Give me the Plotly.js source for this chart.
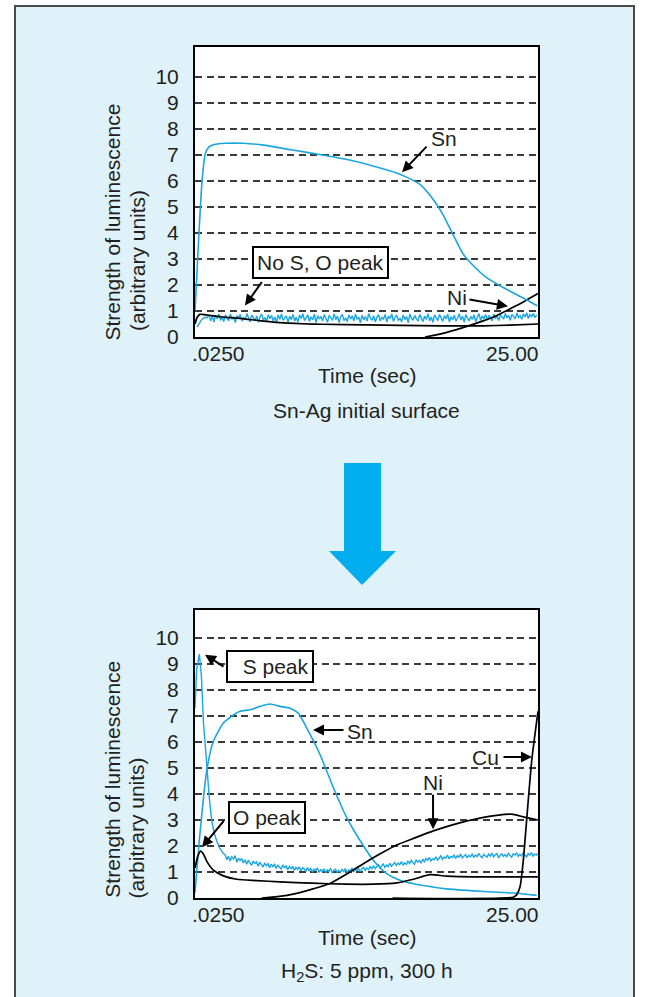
<!DOCTYPE html>
<html>
<head>
<meta charset="utf-8">
<script src="https://cdn.plot.ly/plotly-3.0.1.min.js"></script>
<style>
  html, body { margin: 0; padding: 0; background: #ffffff; }
  #chart { width: 646px; height: 997px; }
</style>
</head>
<body>
<div id="chart"></div>
<script>
// ---------- axis labels ----------
const yTicks = [0, 1, 2, 3, 4, 5, 6, 7, 8, 9, 10];
const xEndLabels = ['.0250', '25.00'];
const xTitle = 'Time (sec)';
const yTitleLines = ['Strength of luminescence', '(arbitrary units)'];
const panelTitles = ['Sn-Ag initial surface', 'H<sub>2</sub>S: 5 ppm, 300 h'];

// ---------- Sn-Ag initial surface (time in s, intensity in a.u.) ----------
const snTopT = [0, 0.25, 0.5, 0.75, 1.0, 1.4, 2.2, 3.5, 5.0, 7.0, 9.3, 11.5, 13.5, 14.6, 15.45, 16.4, 17.35, 18.08, 18.8, 19.53, 20.19, 21.28, 22.2, 23.18, 24.1, 24.95];
const snTopV = [1.0, 3.6, 5.9, 7.05, 7.3, 7.4, 7.45, 7.45, 7.38, 7.2, 7.0, 6.78, 6.5, 6.33, 6.14, 5.87, 5.3, 4.7, 3.95, 3.2, 2.8, 2.27, 1.98, 1.7, 1.45, 1.2];

const baseTopT = [0, 0.15, 0.35, 0.7, 1.2, 2.0, 3.3, 4.8, 6.2, 7.8, 9.3, 12.5, 15, 18, 21, 23, 25];
const baseTopV = [0.5, 0.75, 0.87, 0.86, 0.82, 0.77, 0.72, 0.62, 0.55, 0.51, 0.49, 0.47, 0.45, 0.43, 0.43, 0.46, 0.5];

const niTopT = [16.76, 18.0, 19.53, 21.0, 22.0, 23.18, 24.0, 25.0];
const niTopV = [0, 0.13, 0.36, 0.62, 0.83, 1.14, 1.37, 1.67];

// background trace: leading edge, then a sampled run (start 0.9 s, every 0.12 s)
const bgTopHeadT = [0.15, 0.3, 0.45, 0.6, 0.75];
const bgTopHeadV = [0.38, 0.52, 0.64, 0.72, 0.76];
const bgTopStart = 0.9, bgTopStep = 0.12;
const bgTopRun = [
  0.74,0.86,0.62,0.80,0.57,0.83,0.70,0.88,0.64,0.77,
  0.59,0.85,0.71,0.63,0.89,0.68,0.78,0.55,0.82,0.73,
  0.87,0.61,0.76,0.66,0.90,0.69,0.58,0.84,0.72,0.63,
  0.81,0.56,0.79,0.88,0.65,0.75,0.60,0.86,0.70,0.83,
  0.62,0.77,0.54,0.85,0.68,0.89,0.64,0.74,0.81,0.57,
  0.80,0.67,0.87,0.61,0.76,0.58,0.84,0.71,0.90,0.63,
  0.73,0.85,0.60,0.78,0.66,0.88,0.55,0.82,0.69,0.79,
  0.61,0.86,0.72,0.57,0.83,0.75,0.64,0.89,0.67,0.80,
  0.56,0.78,0.87,0.63,0.74,0.59,0.85,0.70,0.81,0.62,
  0.88,0.68,0.76,0.55,0.84,0.66,0.79,0.61,0.90,0.73,
  0.64,0.82,0.58,0.77,0.86,0.62,0.75,0.69,0.87,0.57,
  0.80,0.71,0.89,0.60,0.76,0.84,0.63,0.73,0.58,0.85,
  0.67,0.79,0.55,0.88,0.72,0.64,0.83,0.70,0.61,0.86,
  0.74,0.59,0.81,0.68,0.90,0.62,0.77,0.56,0.85,0.71,
  0.63,0.87,0.75,0.60,0.82,0.69,0.88,0.58,0.78,0.66,
  0.84,0.61,0.73,0.89,0.65,0.80,0.57,0.86,0.72,0.62,
  0.79,0.68,0.85,0.59,0.76,0.90,0.64,0.81,0.70,0.87,
  0.66,0.83,0.74,0.62,0.88,0.71,0.80,0.63,0.86,0.76,
  0.69,0.91,0.73,0.84,0.64,0.87,0.78,0.70,0.92,0.75,
  0.82,0.68,0.89,0.77,0.93,0.71,0.86,0.79,0.90,0.74,
  0.85
];

// ---------- after H2S exposure ----------
const snBotT = [0, 0.36, 0.85, 1.34, 2.07, 2.7, 3.28, 4.01, 4.74, 5.47, 6.2, 6.92, 7.53, 8.14, 9.11, 10.08, 11.05, 12.03, 13.0, 13.97, 14.94, 15.91, 17.0, 18.34, 20.77, 23.2, 24.9];
const snBotV = [0.2, 2.47, 4.89, 6.03, 6.73, 7.0, 7.18, 7.24, 7.37, 7.46, 7.37, 7.3, 7.11, 6.54, 5.52, 4.25, 3.1, 2.21, 1.45, 0.94, 0.68, 0.55, 0.45, 0.35, 0.26, 0.19, 0.1];

const oBotT = [0, 0.2, 0.41, 0.6, 0.85, 1.34, 2.07, 3.04, 4.5, 6.2, 8.5, 11.05, 13.0, 14.7, 15.91, 17.13, 18.34, 20.77, 25];
const oBotV = [1.15, 1.6, 1.8, 1.7, 1.42, 1.07, 0.85, 0.72, 0.67, 0.62, 0.57, 0.53, 0.53, 0.58, 0.72, 0.9, 0.84, 0.81, 0.81];

const niBotT = [4.86, 6.0, 7.41, 8.6, 9.84, 11.0, 12.27, 13.5, 14.7, 15.91, 17.37, 19.56, 21.99, 23.2, 23.93, 25.0];
const niBotV = [0, 0.05, 0.18, 0.35, 0.56, 0.9, 1.32, 1.7, 2.04, 2.29, 2.58, 2.93, 3.18, 3.22, 3.12, 3.0];

const cuBotT = [14.4, 23.2, 23.44, 23.69, 23.93, 24.17, 24.54, 25.0];
const cuBotV = [0, 0.03, 0.12, 0.43, 1.45, 2.98, 5.27, 7.18];

// S trace: sharp surface peak, then a sampled run (start 2.2 s, every 0.12 s)
const sBotHeadT = [0, 0.12, 0.32, 0.47, 0.61, 0.85, 1.05, 1.22, 1.4, 1.58, 1.8, 2.05];
const sBotHeadV = [7.3, 8.8, 9.38, 8.5, 6.8, 4.99, 3.8, 2.98, 2.5, 2.2, 1.92, 1.72];
const sBotStart = 2.2, sBotStep = 0.12;
const sBotRun = [
  1.66,1.47,1.61,1.42,1.58,1.50,1.63,1.38,1.53,1.44,
  1.52,1.35,1.47,1.30,1.44,1.36,1.25,1.42,1.33,1.39,
  1.22,1.38,1.27,1.19,1.35,1.24,1.32,1.16,1.30,1.21,
  1.29,1.14,1.26,1.19,1.11,1.27,1.17,1.23,1.09,1.21,
  1.13,1.22,1.06,1.18,1.10,1.20,1.04,1.16,1.12,1.03,
  1.17,1.05,1.13,0.99,1.11,1.06,1.15,0.98,1.09,1.02,
  1.12,0.97,1.08,1.03,1.14,0.96,1.07,1.11,0.99,1.06,
  0.98,1.10,1.02,1.13,0.97,1.08,1.04,1.15,1.00,1.11,
  1.05,1.14,1.01,1.12,1.18,1.06,1.16,1.09,1.21,1.11,
  1.24,1.13,1.20,1.28,1.16,1.25,1.31,1.18,1.27,1.21,
  1.33,1.22,1.30,1.37,1.25,1.34,1.28,1.40,1.26,1.35,
  1.29,1.41,1.33,1.45,1.36,1.30,1.47,1.38,1.44,1.34,
  1.49,1.40,1.52,1.45,1.56,1.43,1.51,1.47,1.58,1.46,
  1.54,1.62,1.49,1.58,1.53,1.65,1.51,1.60,1.56,1.66,
  1.52,1.63,1.57,1.69,1.55,1.61,1.67,1.54,1.64,1.58,
  1.70,1.56,1.65,1.59,1.72,1.60,1.55,1.68,1.62,1.57,
  1.69,1.61,1.73,1.58,1.66,1.71,1.56,1.64,1.70,1.60,
  1.67,1.59,1.72,1.63,1.57,1.70,1.65,1.74,1.60,1.68,
  1.62,1.73,1.66,1.58,1.71,1.64,1.75,1.61,1.69,1.65,
  1.72
];

// ---------- styling ----------
const W = 646, H = 997;
const FONT = '"Liberation Sans", Arial, Helvetica, sans-serif';
const INK = '#231f20';
const BLUE = '#1ba6df';
const PANEL = '#dff2fa';
const UNIT = 26;                 // pixels per intensity unit (keeps every grid line on the same pixel phase)
const px = x => x / W;          // pixel -> paper x
const py = y => 1 - y / H;      // pixel -> paper y

// plot boxes in pixels
const box = {
  left: 195, right: 538,
  top: { top: 47, bottom: 337 },
  bot: { top: 610, bottom: 898 }
};

function sampled(head, start, step, run) {
  return head.concat(run.map((_, i) => +(start + i * step).toFixed(3)));
}

function line(x, y, color, width, xa, ya) {
  return { x, y, type: 'scatter', mode: 'lines', xaxis: xa, yaxis: ya,
           line: { color, width, shape: 'spline', smoothing: 0.6 }, hoverinfo: 'skip' };
}
function jagged(x, y, color, width, xa, ya) {
  return { x, y, type: 'scatter', mode: 'lines', xaxis: xa, yaxis: ya,
           line: { color, width }, hoverinfo: 'skip' };
}

const data = [
  jagged(sampled(bgTopHeadT, bgTopStart, bgTopStep, bgTopRun), bgTopHeadV.concat(bgTopRun), BLUE, 1.4, 'x', 'y'),
  line(baseTopT, baseTopV, '#000', 1.7, 'x', 'y'),
  line(niTopT, niTopV, '#000', 1.7, 'x', 'y'),
  line(snTopT, snTopV, BLUE, 1.6, 'x', 'y'),

  jagged(sampled(sBotHeadT, sBotStart, sBotStep, sBotRun), sBotHeadV.concat(sBotRun), BLUE, 1.4, 'x2', 'y2'),
  line(snBotT, snBotV, BLUE, 1.6, 'x2', 'y2'),
  line(oBotT, oBotV, '#000', 1.7, 'x2', 'y2'),
  line(niBotT, niBotV, '#000', 1.7, 'x2', 'y2'),
  line(cuBotT, cuBotV, '#000', 1.7, 'x2', 'y2')
];

function xAxis(anchor) {
  return { domain: [px(box.left), px(box.right)], range: [0, 25], anchor,
           showgrid: false, zeroline: false, showticklabels: false, ticks: '',
           showline: true, mirror: true, linecolor: '#000', linewidth: 2, fixedrange: true };
}
function yAxis(anchor, b) {
  return { domain: [py(b.bottom), py(b.top)], range: [0, (b.bottom - b.top) / UNIT], anchor,
           tickmode: 'array', tickvals: yTicks, ticktext: yTicks.map(String),
           showgrid: true, gridcolor: '#3a3a3a', gridwidth: 1.2, griddash: '7px,4.5px',
           zeroline: false, showline: true, mirror: true, linecolor: '#000', linewidth: 2,
           ticks: '', ticklabelstandoff: 10,
           tickfont: { family: FONT, size: 21, color: INK }, fixedrange: true };
}

const txt = (s, x, y, xr, yr, extra) => Object.assign({
  text: s, x, y, xref: xr, yref: yr, showarrow: false,
  font: { family: FONT, size: 21, color: INK }, xanchor: 'center', yanchor: 'middle'
}, extra || {});

const labelBox = { bgcolor: '#ffffff', bordercolor: '#000', borderwidth: 2, borderpad: 3 };

const arrow = (x, y, ax, ay, xr, yr) => ({
  text: '', x, y, xref: xr, yref: yr, ax, ay, axref: 'pixel', ayref: 'pixel',
  showarrow: true, arrowhead: 2, arrowsize: 1.1, arrowwidth: 2, arrowcolor: '#000', standoff: 0
});

function frame(xr, yr, l1y, l2y, title) {
  return [
    txt(xEndLabels[0], 0, 0, xr, yr, { xanchor: 'left', yanchor: 'top', xshift: -5, yshift: -3 }),
    txt(xEndLabels[1], 25, 0, xr, yr, { xanchor: 'right', yanchor: 'top', xshift: 3, yshift: -3 }),
    txt(xTitle, 0.5, 0, xr + ' domain', yr, { yshift: -39 }),
    txt(title, 0.5, 0, xr + ' domain', yr, { yshift: -74 }),
    txt(yTitleLines[0], 0, l1y, xr + ' domain', yr, { textangle: -90, xshift: -82 }),
    txt(yTitleLines[1], 0, l2y, xr + ' domain', yr, { textangle: -90, xshift: -58 })
  ];
}

const annotations = [
  ...frame('x', 'y', 4.4, 2.92, panelTitles[0]),
  ...frame('x2', 'y2', 4.55, 2.67, panelTitles[1]),

  // top panel callouts
  txt('No S, O peak', 9.18, 2.85, 'x', 'y', labelBox),
  arrow(3.64, 1.21, 18, -25, 'x', 'y'),
  txt('Sn', 18.15, 7.65, 'x', 'y'),
  arrow(15.09, 6.34, 26, -27, 'x', 'y'),
  txt('Ni', 19.1, 1.5, 'x', 'y'),
  arrow(22.81, 1.18, -40, -7, 'x', 'y'),

  // bottom panel callouts
  txt('\u00a0\u00a0S peak', 5.5, 8.92, 'x2', 'y2', labelBox),
  arrow(0.73, 9.36, 20, 13, 'x2', 'y2'),
  txt('Sn', 12.03, 6.42, 'x2', 'y2'),
  arrow(8.6, 6.46, 32, 0, 'x2', 'y2'),
  txt('Cu', 21.17, 5.42, 'x2', 'y2'),
  arrow(24.56, 5.42, -30, 0, 'x2', 'y2'),
  txt('Ni', 17.35, 4.45, 'x2', 'y2'),
  arrow(17.35, 2.64, 0, -36, 'x2', 'y2'),
  txt('O peak', 5.25, 3.11, 'x2', 'y2', labelBox),
  arrow(0.51, 1.95, 23, -28, 'x2', 'y2')
];

// big down arrow between the panels (pixel outline)
const bigArrow = [[344, 463], [381, 463], [381, 551], [396, 551], [362, 585], [329, 551], [344, 551]];
const arrowPath = 'M' + bigArrow.map(p => px(p[0]).toFixed(5) + ',' + py(p[1]).toFixed(5)).join(' L') + ' Z';

const shapes = [
  { type: 'rect', xref: 'paper', yref: 'paper', x0: px(15), x1: px(634), y0: py(1005), y1: py(6),
    fillcolor: PANEL, line: { color: '#4a4a4a', width: 2 }, layer: 'below' },
  { type: 'rect', xref: 'paper', yref: 'paper', x0: px(box.left), x1: px(box.right),
    y0: py(box.top.bottom), y1: py(box.top.top), fillcolor: '#ffffff', line: { width: 0 }, layer: 'below' },
  { type: 'rect', xref: 'paper', yref: 'paper', x0: px(box.left), x1: px(box.right),
    y0: py(box.bot.bottom), y1: py(box.bot.top), fillcolor: '#ffffff', line: { width: 0 }, layer: 'below' },
  { type: 'path', xref: 'paper', yref: 'paper', path: arrowPath,
    fillcolor: '#00adee', line: { width: 0 }, layer: 'below' }
];

const layout = {
  width: W, height: H,
  margin: { l: 0, r: 0, t: 0, b: 0 },
  paper_bgcolor: '#ffffff', plot_bgcolor: 'rgba(0,0,0,0)',
  showlegend: false,
  font: { family: FONT, size: 21, color: INK },
  xaxis: xAxis('y'),
  yaxis: yAxis('x', box.top),
  xaxis2: xAxis('y2'),
  yaxis2: yAxis('x2', box.bot),
  shapes, annotations
};

Plotly.newPlot('chart', data, layout, { staticPlot: true, displayModeBar: false });
</script>
</body>
</html>
